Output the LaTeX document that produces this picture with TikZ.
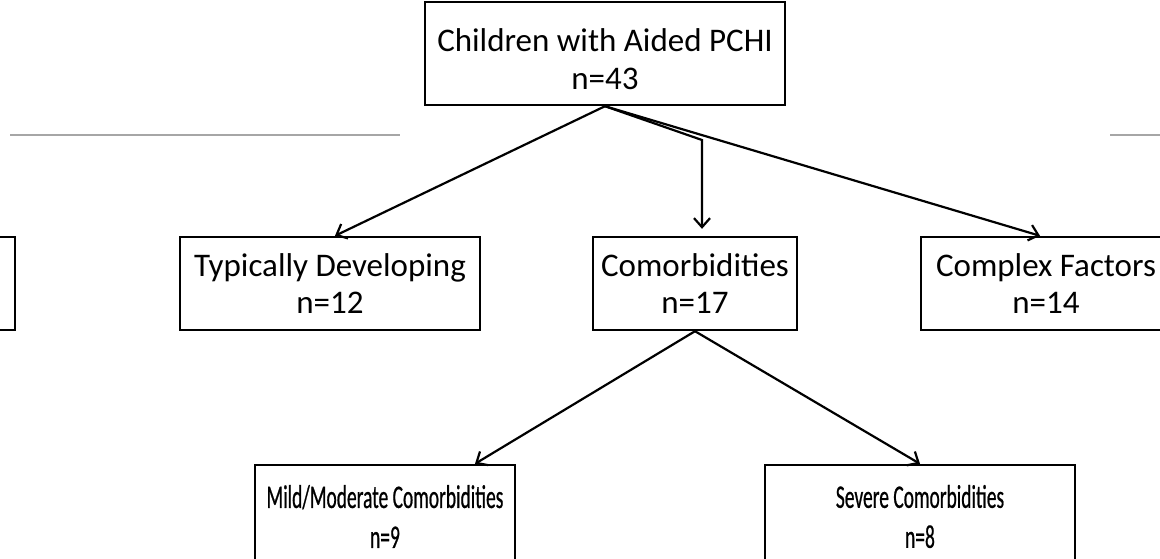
\documentclass[tikz,border=0pt]{standalone}
\usepackage{fontspec}
\setmainfont{Carlito}
\newfontfamily\condfont[FakeStretch=0.59,FakeBold=0.6]{Carlito}
\usetikzlibrary{arrows.meta}
\tikzset{
  box/.style={draw=black, line width=2.4pt, align=center, inner sep=0pt,
    font={\fontsize{33}{37}\selectfont}},
  plain/.style={align=center, inner sep=0pt, font={\fontsize{33}{38}\selectfont}},
  lowbox/.style={box, font={\condfont\fontsize{33}{40}\selectfont}},
  link/.style={draw=black, line width=2.2pt, -{Straight Barb[length=9pt,width=16pt,line width=2.2pt]}},
  rule/.style={draw=gray!70, line width=1.5pt}
}
\begin{document}
\begin{tikzpicture}[x=1pt,y=-1pt]
\useasboundingbox (0,0) rectangle (1160,558);
\begin{scope}
\clip (0,0) rectangle (1160,558);
\node[box, minimum width=360pt, minimum height=103pt] (top) at (605,53.5) {};
\node[plain] (toptext) at (605,59) {Children with Aided PCHI\\n=43};
\node[box, minimum width=300pt, minimum height=93pt] (left) at (-135,283.5) {};
\node[box, minimum width=300pt, minimum height=93pt] (typ) at (330,283.5) {Typically Developing\\n=12};
\node[box, minimum width=204pt, minimum height=93pt] (com) at (695,283.5) {Comorbidities\\n=17};
\node[box, minimum width=250pt, minimum height=93pt] (cpx) at (1046,283.5) {Complex Factors\\n=14};
\node[lowbox, minimum width=260pt, minimum height=103pt] (mild) at (385,516.5) {Mild/Moderate Comorbidities\\n=9};
\node[lowbox, minimum width=310pt, minimum height=103pt] (sev) at (920,516.5) {Severe Comorbidities\\n=8};
\coordinate (r1a) at (10,135);
\coordinate (r1b) at (400,135);
\coordinate (r2a) at (1110,135);
\coordinate (r2b) at (1165,135);
\coordinate (bend) at (702,140);
\draw[rule] (r1a) -- (r1b);
\draw[rule] (r2a) -- (r2b);
\draw[link] (top.south) -- ([xshift=5pt]typ.north);
\draw[link] (top.south) -- (bend) -- ([xshift=7pt,yshift=7pt]com.north);
\draw[link] (top.south) -- ([xshift=-6pt]cpx.north);
\draw[link] (com.south) -- ([xshift=90pt]mild.north);
\draw[link] (com.south) -- (sev.north);
\end{scope}
\end{tikzpicture}
\end{document}
